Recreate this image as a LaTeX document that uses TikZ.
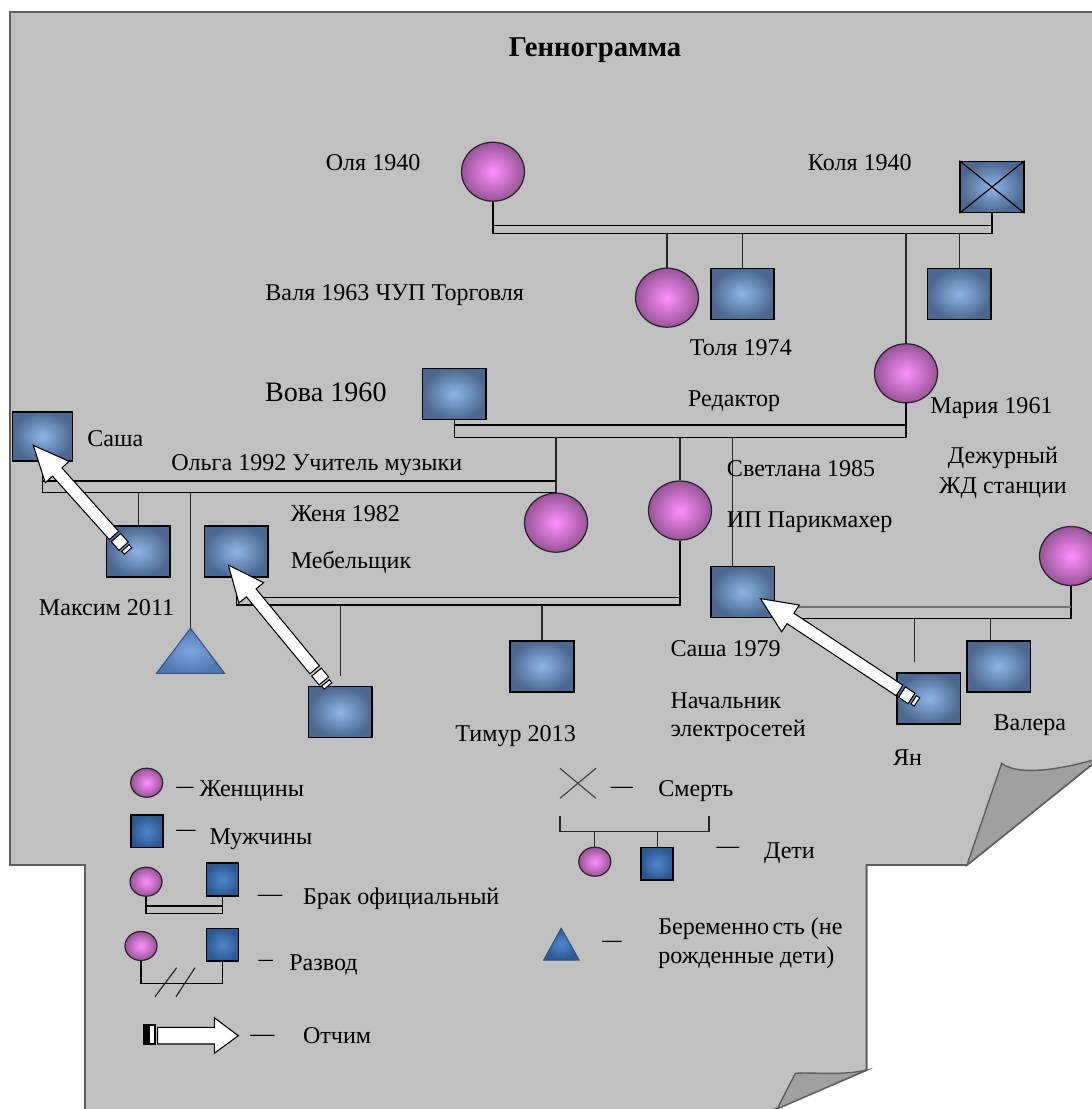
\documentclass[tikz,border=0pt]{standalone}
\usepackage{graphicx}
\usepackage{fontspec}
\setmainfont{Liberation Serif}
\usetikzlibrary{shapes.geometric,calc}

\definecolor{paper}{HTML}{C0C0C0}
\definecolor{paperedge}{HTML}{5E5E5E}
\definecolor{fold}{HTML}{A0A0A0}
\definecolor{pinkin}{HTML}{FF90FF}
\definecolor{pinkout}{HTML}{985498}
\definecolor{bluein}{HTML}{8EB6E8}
\definecolor{blueout}{HTML}{4C6890}
\definecolor{darkin}{HTML}{5089CC}
\definecolor{darkout}{HTML}{2C5892}
\definecolor{triin}{HTML}{7CA6DE}
\definecolor{triout}{HTML}{5079B4}
\definecolor{triedge}{HTML}{34507A}

\tikzset{
  female/.style={ellipse, draw=black!85, line width=0.7pt, inner color=pinkin,
    outer color=pinkout, minimum width=1.26cm, minimum height=1.18cm, inner sep=0pt},
  male/.style={rectangle, draw=black, line width=0.9pt, inner color=bluein,
    outer color=blueout, minimum width=1.27cm, minimum height=1.02cm, inner sep=0pt},
  smallfemale/.style={female, minimum width=0.64cm, minimum height=0.58cm},
  smallmale/.style={male, inner color=darkin, outer color=darkout,
    minimum width=0.64cm, minimum height=0.65cm},
  bond/.style={draw=black, line width=0.9pt},
  kin/.style={draw=black!85, line width=0.65pt},
  pregnancy/.style={draw=triedge, line width=0.6pt, inner color=triin, outer color=triout},
  stepline/.style={draw=black, fill=white, line width=0.6pt},
  txt/.style={font=\fontsize{13.7}{16.8}\selectfont, inner sep=0pt, anchor=base west},
  stepf/.pic={
    \draw[stepline] (0pt,-0.1cm) rectangle (0.08cm,0.1cm);
    \draw[stepline] (0.13cm,-0.125cm) rectangle (0.36cm,0.125cm);
    \draw[stepline] (0.42cm,-0.125cm) -- ({#1-0.72cm},-0.125cm) -- ({#1-0.72cm},-0.32cm)
      -- ({#1+0pt},0pt) -- ({#1-0.72cm},0.32cm) -- ({#1-0.72cm},0.125cm)
      -- (0.42cm,0.125cm) -- cycle;
  }
}

\begin{document}
\begin{tikzpicture}[x=0.02cm, y=-0.02cm]
  \useasboundingbox (0,0) rectangle (1092,1109);
  \clip (0,0) rectangle (1092,1109);

  \filldraw[fill=paper, draw=paperedge, line width=1.1pt] (10,12) -- (1100,12) -- (1100,758)
    -- (967,865) -- (866.6,865) -- (866.6,1070) -- (759,1116) -- (85,1116) -- (85,865)
    -- (10,865) -- cycle;
  \filldraw[fill=fold, draw=paperedge, line width=0.8pt] (967,865) -- (1001.7,763.3)
    .. controls (1015,774) and (1050,773) .. (1100,758) -- cycle;
  \filldraw[fill=fold, draw=paperedge, line width=0.8pt] (866.6,1070)
    .. controls (840,1076) and (815,1072) .. (795.4,1073.3) -- (777,1109) -- cycle;

  \node[txt, anchor=base, font=\bfseries\fontsize{16.3}{20}\selectfont] (title) at (595,56.7) {Геннограмма};

  \node[female] (Olya) at (493,171.7) {};
  \node[male] (Kolya) at (992,187) {};
  \node[female] (Valya) at (667,297.7) {};
  \node[male] (Tolya) at (742.5,294) {};
  \node[male] (Brother) at (959.4,294) {};
  \node[female] (Maria) at (906,373.3) {};
  \node[male] (Vova) at (454.4,394) {};
  \node[male, minimum width=1.2cm, minimum height=0.98cm] (Sasha) at (42.5,436.3) {};
  \node[female] (Olga) at (556,522.7) {};
  \node[female] (Sveta) at (680,510.5) {};
  \node[male] (Maksim) at (138.2,551.3) {};
  \node[male] (Zhenya) at (236.3,551.5) {};
  \node[male] (Stepson) at (340.3,712) {};
  \node[male] (Timur) at (542,666.3) {};
  \node[male] (Sasha79) at (742.7,592) {};
  \node[female] (Wife) at (1071,556) {};
  \node[male] (Yan) at (928.8,698.7) {};
  \node[male] (Valera) at (998.8,666.3) {};
  \coordinate (Preg) at (190.5,628.3);
  \draw[pregnancy] (Preg) -- ++(34,45) -- ++(-68,0) -- cycle;

  \draw[kin, black] (Kolya.north west) -- (Kolya.south east) (Kolya.north east) -- (Kolya.south west);

  \coordinate (m1t) at (0,225.3);
  \coordinate (m1b) at (0,233.3);
  \draw[bond] (Olya.south) -- (Olya.south |- m1b) -- (Kolya.south |- m1b) -- (Kolya.south);
  \draw[bond] (Olya.south |- m1t) -- (Kolya.south |- m1t);
  \foreach \k in {Valya,Tolya,Brother,Maria}
    \draw[kin] (\k.north) -- (\k.north |- m1b);

  \coordinate (m2t) at (0,424.8);
  \coordinate (m2b) at (0,437.3);
  \draw[bond] (Vova.south) -- (Vova.south |- m2b) -- (Maria.south |- m2b) -- (Maria.south);
  \draw[bond] (Vova.south |- m2t) -- (Maria.south |- m2t);
  \coordinate (s79top) at ($(Sasha79.north)+(-10,0)$);
  \foreach \k in {Olga.north,Sveta.north,s79top}
    \draw[kin] (\k |- m2b) -- (\k);

  \coordinate (m3t) at (0,481);
  \draw[bond] (Sasha.south) |- (Olga.north);
  \draw[bond] (Sasha.south |- m3t) -- (Olga.north |- m3t);
  \draw[kin] (Maksim.north) -- (Maksim.north |- Olga.north);
  \draw[kin] (Preg) -- (Preg |- Olga.north);

  \coordinate (m4t) at (0,597.3);
  \coordinate (m4b) at (0,605);
  \draw[bond] (Zhenya.south) -- (Zhenya.south |- m4b) -- (Sveta.south |- m4b) -- (Sveta.south);
  \draw[bond] (Zhenya.south |- m4t) -- (Sveta.south |- m4t);
  \coordinate (steptop) at ($(Stepson.north)+(0,-10)$);
  \draw[kin] (steptop |- m4b) -- (steptop);
  \draw[kin] (Timur.north |- m4b) -- (Timur.north);

  \coordinate (m5t) at (0,606.7);
  \draw[bond] (Sasha79.south east) -| (Wife.south);
  \draw[bond, draw=black!55, line width=1.3pt] (Sasha79.east |- m5t) -- (Wife.south |- m5t);
  \coordinate (yantop) at ($(Yan.north)+(-14,-10)$);
  \coordinate (valeratop) at ($(Valera.north)+(-8,0)$);
  \foreach \k in {yantop,valeratop}
    \draw[kin] (\k |- Sasha79.south) -- (\k);

  \coordinate (s1a) at (128,551);
  \coordinate (s1b) at (33,445);
  \coordinate (s2a) at (328,686);
  \coordinate (s2b) at (228.3,565);
  \coordinate (s3a) at (917,702);
  \coordinate (s3b) at (760,598.3);
  \foreach \a/\b in {s1a/s1b,s2a/s2b,s3a/s3b}
    \path let \p1=($(\b)-(\a)$), \n1={atan2(\y1,\x1)}, \n2={veclen(\x1,\y1)}
      in (\a) pic[rotate=\n1] {stepf=\n2};

  \node[txt] (lOlya) at (325.5,170.7) {Оля 1940};
  \node[txt] (lKolya) at (807.6,170.7) {Коля 1940};
  \node[txt] (lValya) at (265,300) {Валя 1963 ЧУП Торговля};
  \node[txt] (lTolya) at (689.6,355) {Толя 1974};
  \node[txt, font=\fontsize{16}{19}\selectfont] (lVova) at (264.8,401.7) {Вова 1960};
  \node[txt] (lEditor) at (687.8,406) {Редактор};
  \node[txt] (lMaria) at (930,413.3) {Мария 1961};
  \node[txt] (lSasha) at (87,446.7) {Саша};
  \node[txt] (lOlga) at (171,470) {Ольга 1992 Учитель музыки};
  \node[txt] (lSveta) at (726.6,476.7) {Светлана 1985};
  \node[txt, anchor=base] (lDutyA) at (1003,463.3) {Дежурный};
  \node[txt, anchor=base] (lDutyB) at (1003,493.3) {ЖД станции};
  \node[txt] (lZhenya) at (290.4,521.7) {Женя 1982};
  \node[txt] (lHair) at (726.6,527.3) {ИП Парикмахер};
  \node[txt] (lFurn) at (290.4,568.3) {Мебельщик};
  \node[txt] (lMaksim) at (38.6,615) {Максим 2011};
  \node[txt] (lSasha79) at (670.2,656) {Саша 1979};
  \node[txt] (lChiefA) at (670.2,708.3) {Начальник};
  \node[txt] (lChiefB) at (670.2,736.7) {электросетей};
  \node[txt] (lValera) at (993.3,730) {Валера};
  \node[txt] (lTimur) at (455,741.7) {Тимур 2013};
  \node[txt] (lYan) at (892.7,765.7) {Ян};

  \node[smallfemale] (kWomen) at (146.7,782.7) {};
  \node[smallmale] (kMen) at (147.2,831.3) {};
  \node[smallfemale] (kMarrF) at (146,881.7) {};
  \node[smallmale] (kMarrM) at (222.5,879.5) {};
  \node[smallfemale] (kDivF) at (141,946) {};
  \node[smallmale] (kDivM) at (222.5,944.7) {};
  \node[smallfemale] (kKidF) at (594.8,861.7) {};
  \node[smallmale] (kKidM) at (657.2,863.7) {};

  \coordinate (lb1) at (0,905.7);
  \coordinate (lb2) at (0,913.3);
  \draw[bond] (kMarrF.south) -- (kMarrF.south |- lb2) -- (kMarrM.south |- lb2) -- (kMarrM.south);
  \draw[bond] (kMarrF.south |- lb1) -- (kMarrM.south |- lb1);
  \coordinate (ld) at (0,983.3);
  \draw[bond] (kDivF.south) -- (kDivF.south |- ld) -- (kDivM.south |- ld) -- (kDivM.south);
  \draw[kin] (155,996.7) -- (176.7,967.7) (176,996.7) -- (195,967.7);

  \draw[kin, black!75] (560,768.3) -- (595.9,798.3) (560,798.3) -- (595.9,768.3);
  \coordinate (lc) at (0,831.7);
  \draw[kin] (560,816) -- (560,831.7) -- (709,831.7) -- (709,816);
  \foreach \k in {kKidF,kKidM}
    \draw[kin] (\k.north) -- (\k.north |- lc);
  \draw[pregnancy, draw=triedge, inner color=darkin, outer color=darkout]
    (561.2,928.3) -- (579.1,960) -- (543.7,960) -- cycle;

  \draw[stepline] (143.3,1025) rectangle (155,1044);
  \fill[black] (143.3,1025) rectangle (150,1044);
  \draw[stepline] (157.7,1027.3) -- (214.3,1027.3) -- (214.3,1017.7) -- (238.3,1035.7)
    -- (214.3,1053.3) -- (214.3,1044) -- (157.7,1044) -- cycle;

  \foreach \x/\y/\s [count=\i] in {176/793.3/0.72,176/836.7/0.8,257.7/901.7/1,258.3/966/0.6,
      250/1041.7/1,610.5/793.7/0.92,716.3/853.3/0.94,602/947/0.8}
    \node[txt] (dash\i) at (\x,\y) {\scalebox{\s}[1]{—}};
  \node[txt] (lWomen) at (199.3,796) {Женщины};
  \node[txt] (lMen) at (209.3,844) {Мужчины};
  \node[txt] (lMarr) at (302.7,904) {Брак официальный};
  \node[txt] (lDiv) at (289,970) {Развод};
  \node[txt] (lStep) at (302.7,1043.3) {Отчим};
  \node[txt] (lDeath) at (657.9,796) {Смерть};
  \node[txt] (lKids) at (763.7,858.3) {Дети};
  \node[txt] (lPregA) at (657.9,934.3) {Беременно\hspace{2pt}сть (не};
  \node[txt] (lPregB) at (657.9,963.3) {рожденные дети)};
\end{tikzpicture}
\end{document}
